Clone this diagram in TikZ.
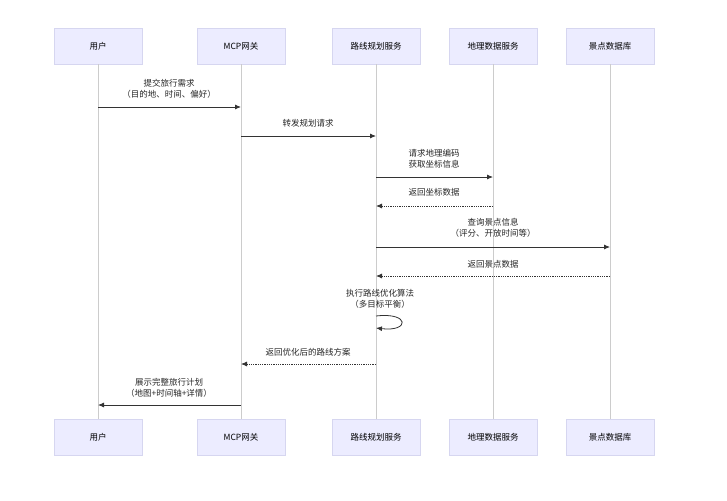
\documentclass[tikz,border=0pt]{standalone}
\usepackage{fontspec}
\setmainfont{Noto Sans CJK SC}
\usetikzlibrary{arrows.meta}
\definecolor{boxfill}{HTML}{ECECFF}
\definecolor{boxline}{HTML}{D6D6F0}
\definecolor{life}{HTML}{CCCCCC}
\begin{document}
\begin{tikzpicture}[x=1pt,y=-1pt,
  actor/.style={draw=boxline,fill=boxfill,minimum width=88pt,minimum height=36pt,font=\fontsize{8.5}{10}\selectfont,inner sep=0pt},
  msg/.style={draw=black!80,line width=0.8pt,-{Latex[length=6pt,width=5pt]}},
  ret/.style={msg,densely dotted},
  lbl/.style={font=\fontsize{8.5}{11}\selectfont,align=center,text=black!85}]
\useasboundingbox (0,0) rectangle (727,500);
\foreach \n/\x/\t in {a/98/用户,b/241/MCP网关,c/376/路线规划服务,d/493/地理数据服务,e/610/景点数据库}{
  \node[actor] (\n t) at (\x,46) {\t};
  \node[actor] (\n b) at (\x,437) {\t};
  \draw[life,line width=0.8pt] (\n t.south) -- (\n b.north);
  \foreach \y in {107,136,177,206,247,276,316,328,364,405}{\coordinate (\n\y) at (\x,\y);}
}
\draw[msg] (a107) -- (b107); \node[lbl] at (169,89) {提交旅行需求\\（目的地、时间、偏好）};
\draw[msg] (b136) -- (c136); \node[lbl] at (308,123) {转发规划请求};
\draw[msg] (c177) -- (d177); \node[lbl] at (434,159) {请求地理编码\\获取坐标信息};
\draw[ret] (d206) -- (c206); \node[lbl] at (434,192) {返回坐标数据};
\draw[msg] (c247) -- (e247); \node[lbl] at (493,228) {查询景点信息\\（评分、开放时间等）};
\draw[ret] (e276) -- (c276); \node[lbl] at (493,264) {返回景点数据};
\draw[msg] (c316) .. controls (410,312) and (410,332) .. (c328);
\node[lbl] at (380,299) {执行路线优化算法\\（多目标平衡）};
\draw[ret] (c364) -- (b364); \node[lbl] at (308,352) {返回优化后的路线方案};
\draw[msg] (b405) -- (a405); \node[lbl] at (169,388) {展示完整旅行计划\\（地图+时间轴+详情）};
\end{tikzpicture}
\end{document}
